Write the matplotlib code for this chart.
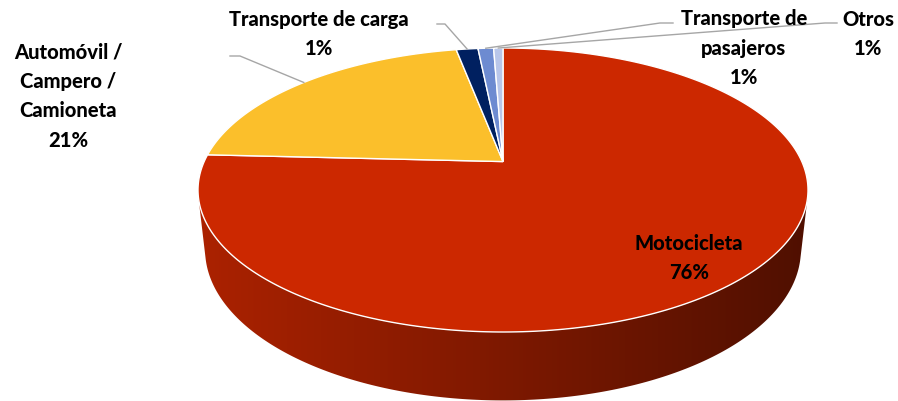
import numpy as np
import matplotlib.pyplot as plt
from matplotlib.patches import Polygon
from matplotlib.colors import to_rgb

# data
categories = ["Motocicleta", "Automóvil /\nCampero /\nCamioneta", "Transporte de carga",
              "Transporte de\npasajeros", "Otros"]
values = [75.8, 21.2, 1.4, 1.0, 0.6]
pct_labels = ["76%", "21%", "1%", "1%", "1%"]
colors = ["#CC2800", "#FBBF2B", "#002060", "#6D8BD1", "#B8C6EA"]

# 3d view settings
phi = np.radians(27)
dist = 4.45
thick = 0.225
box_x = (198, 808)
box_y = (49, 333)


def project(t, y_up=0.0, r=1.0):
    x = r * np.cos(t)
    z = r * np.sin(t)
    c, s = np.cos(phi), np.sin(phi)
    Y = y_up * c + z * s
    D = dist + z * c - y_up * s
    return x * dist / D, Y * dist / D


# fit projection into the pixel box
tt = np.linspace(0, 2 * np.pi, 2000)
sx, sy = project(tt)
sx0, sx1, sy0, sy1 = sx.min(), sx.max(), sy.min(), sy.max()


def to_px(t, y_up=0.0, r=1.0):
    x, y = project(t, y_up, r)
    px = box_x[0] + (x - sx0) / (sx1 - sx0) * (box_x[1] - box_x[0])
    py = box_y[0] + (sy1 - y) / (sy1 - sy0) * (box_y[1] - box_y[0])
    return px, py


fig = plt.figure(figsize=(8.98, 4.02), dpi=100)
ax = fig.add_axes([0, 0, 1, 1])

# slice angles, start at 12 o'clock going clockwise
fracs = np.array(values) / sum(values)
cum = np.concatenate([[0], np.cumsum(fracs)])
starts = np.pi / 2 - cum[:-1] * 2 * np.pi
ends = np.pi / 2 - cum[1:] * 2 * np.pi

# visible wall range (tangent points of the cylinder)
a = np.arcsin(1 / (dist * np.cos(phi)))
vis0, vis1 = np.pi + a, 2 * np.pi - a

for i in range(len(values)):
    lo, hi = ends[i], starts[i]
    for k in (-1, 0, 1):
        w0 = max(lo, vis0 + 2 * np.pi * k)
        w1 = min(hi, vis1 + 2 * np.pi * k)
        if w1 <= w0:
            continue
        t = np.linspace(w0, w1, 200)
        xt, yt = to_px(t)
        xb, yb = to_px(t[::-1], -thick)
        poly = Polygon(np.column_stack([np.r_[xt, xb], np.r_[yt, yb]]),
                       closed=True, facecolor="none", edgecolor="none")
        ax.add_patch(poly)
        base = np.array(to_rgb(colors[i]))
        gx = np.linspace(box_x[0], box_x[1], 300)
        shade = 0.84 - 0.45 * (gx - box_x[0]) / (box_x[1] - box_x[0])
        grad = (base[None, :] * shade[:, None])[None, :, :]
        im = ax.imshow(grad, extent=(box_x[0], box_x[1], 402, 0),
                       aspect="auto", zorder=1, interpolation="bilinear")
        im.set_clip_path(poly)

# top faces
for i in range(len(values)):
    t = np.linspace(starts[i], ends[i], 300)
    xt, yt = to_px(t)
    cxp, cyp = to_px(0.0, 0.0, 0.0)
    pts = np.column_stack([np.r_[cxp, xt], np.r_[cyp, yt]])
    ax.add_patch(Polygon(pts, closed=True, facecolor=colors[i],
                         edgecolor="white", linewidth=1.0, zorder=2))

# labels
font = dict(family=["Lato", "DejaVu Sans"], fontweight="black", fontsize=14.5,
            color="black", ha="center", va="center", linespacing=1.65)
mids = (starts + ends) / 2
label_pos = [(689, 258), (68, 96), (319, 34), (744, 48), (868, 34)]
elbows = [None, [(230, 57), (240, 57)], [(437, 25), (445, 25)],
          [(673, 24), (660, 24)], [(837, 24), (825, 24)]]
for i in range(len(values)):
    ax.text(label_pos[i][0], label_pos[i][1],
            categories[i] + "\n" + pct_labels[i], zorder=5, **font)
    if elbows[i] is not None:
        axp, ayp = to_px(mids[i])
        xs = [p[0] for p in elbows[i]] + [axp]
        ys = [p[1] for p in elbows[i]] + [ayp]
        ax.plot(xs, ys, color="#A6A6A6", linewidth=1.0, zorder=4)

ax.set_xlim(0, 898)
ax.set_ylim(402, 0)
ax.axis("off")
plt.savefig("out.png", dpi=100)
